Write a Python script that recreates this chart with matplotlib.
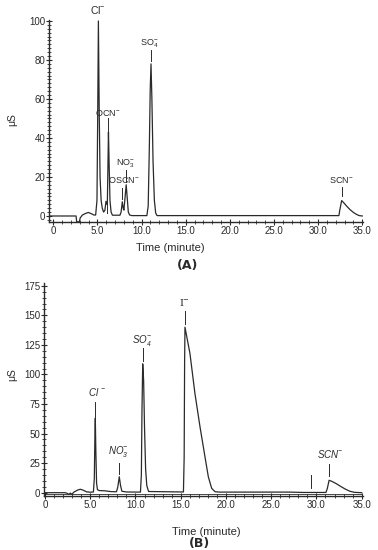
import matplotlib.pyplot as plt
from matplotlib.ticker import MultipleLocator

plt.rcParams['font.family'] = ['Liberation Sans', 'DejaVu Sans']
plt.rcParams['mathtext.default'] = 'regular'

# chromatogram (A), points: time (minute), signal (uS)
time_a = [-0.45, 2.58, 2.65, 2.95, 3.05, 3.3, 3.7, 3.97, 4.3, 4.6, 4.8, 4.95,
          5.03, 5.11, 5.2, 5.3, 5.42, 5.55, 5.7, 5.85, 5.97, 6.07, 6.13,
          6.19, 6.25, 6.32, 6.42, 6.55, 6.7, 7.55, 7.68, 7.82, 7.92, 8.0,
          8.1, 8.26, 8.38, 8.5, 8.65, 8.9, 10.6, 10.75, 10.88, 10.98, 11.07,
          11.17, 11.3, 11.45, 11.6, 11.75, 32.35, 32.45, 32.66, 32.9, 33.2,
          33.6, 34.0, 34.35, 34.65, 35.0]
sig_a = [0, 0, -3, -3, -1, 0.5, 1.4, 1.8, 1.2, 0.5, 0.5, 8,
         50, 100, 55, 20, 8, 4, 2, 3, 7.5, 6, 8,
         25, 43, 28, 8, 2, 0.4, 0.4, 2, 7.3, 4, 3,
         8, 16, 9, 2, 0.5, 0.2, 0.2, 5, 35, 65, 78,
         60, 28, 8, 1.5, 0.2, 0.2, 3, 7.9, 6.8, 5.2,
         3.3, 1.8, 0.8, 0.2, 0]

# chromatogram (B)
time_b = [-0.08, 2.2, 2.45, 2.65, 2.8, 2.95, 3.2, 3.6, 3.9, 4.2, 4.6, 5.0,
          5.35, 5.45, 5.51, 5.56, 5.62, 5.7, 5.8, 6.0, 6.6, 7.3, 7.9, 8.05,
          8.21, 8.35, 8.5, 9.0, 10.55, 10.65, 10.72, 10.8, 10.9, 11.0,
          11.12, 11.25, 11.45, 15.3, 15.38, 15.43, 15.47, 16.02, 16.57, 17.13,
          17.68, 18.05, 18.42, 18.8, 19.3, 27.0, 28.5, 31.05, 31.2, 31.4,
          31.7, 32.2, 32.7, 33.2, 33.7, 34.2, 35.0]
sig_b = [0, 0, -0.5, -1.5, -0.3, -1.4, 0.5, 2.2, 2.9, 2.2, 0.7, 0.4,
         0.6, 12, 45, 63, 35, 8, 2.5, 1.8, 1.6, 0.9, 0.8, 5,
         13.5, 6, 1.2, 0.6, 0.5, 15, 70, 109, 95, 55,
         20, 6, 1, 0.6, 30, 110, 140, 117.8, 84, 55.8,
         30.4, 13.5, 3.7, 0.8, 0.5, 0.5, 0.2, 0.2, 3.5, 10.5,
         9.6, 7.6, 5.2, 3, 1.2, 0.3, 0]

# peak labels: text, x, y, marker top, marker bottom
labels_a = ['Cl$^{-}$', 'OCN$^{-}$', 'NO$_3^{-}$', 'OSCN$^{-}$', 'SO$_4^{-}$', 'SCN$^{-}$']
lab_xa = [5.1, 6.14, 8.2, 8.0, 10.9, 32.66]
lab_ya = [105.5, 52.6, 27.0, 18.5, 88.5, 18.5]
mark_xa = [None, 6.25, 8.26, 7.82, 11.07, 32.66, 6.05]
mark_top_a = [None, 50.5, 23.5, 14.5, 85.0, 15.0, 8.2]
mark_bot_a = [None, 43.5, 17.5, 8.5, 79.5, 10.0, 1.5]

labels_b = ['Cl $^{-}$', 'NO$_3^{-}$', 'SO$_4^{-}$', 'I$^{-}$', 'SCN$^{-}$']
lab_xb = [5.7, 8.1, 10.7, 15.4, 31.5]
lab_yb = [85.0, 34.6, 129.0, 161.0, 33.0]
mark_xb = [5.56, 8.21, 10.8, 15.45, 31.4, 29.37]
mark_top_b = [77.0, 24.8, 122.8, 153.8, 24.0, 15.0]
mark_bot_b = [64.0, 15.8, 111.5, 142.5, 14.4, 3.7]

x_ticks = [0, 5, 10, 15, 20, 25, 30, 35]
x_ticklabels = ['0', '5.0', '10.0', '15.0', '20.0', '25.0', '30.0', '35.0']

ink = '#2a2a2a'
fig = plt.figure(figsize=(3.78, 5.5), dpi=100)


def style_axes(ax, yticks, yminor):
    for s in ['top', 'right']:
        ax.spines[s].set_visible(False)
    for s in ['left', 'bottom']:
        ax.spines[s].set_color(ink)
        ax.spines[s].set_linewidth(1.0)
    ax.set_xticks(x_ticks)
    ax.set_xticklabels(x_ticklabels)
    ax.set_yticks(yticks)
    ax.xaxis.set_minor_locator(MultipleLocator(1))
    ax.yaxis.set_minor_locator(MultipleLocator(yminor))
    ax.tick_params(which='major', direction='inout', length=4, width=0.8,
                   color=ink, labelsize=7, labelcolor=ink, pad=1)
    ax.tick_params(which='minor', direction='inout', length=2.5, width=0.6, color=ink)


def fig_text(x, y, s, **kw):
    fig.text(x / 378, 1 - y / 550, s, ha='center', va='center', color=ink, **kw)


# ---- (A)
ax1 = fig.add_axes([49.3 / 378, 1 - 222 / 550, 313.7 / 378, 202 / 550])
ax1.plot(time_a, sig_a, color=ink, lw=0.9)
ax1.set_xlim(-0.45, 35.08)
ax1.set_ylim(-3.08, 100.5)
style_axes(ax1, [0, 20, 40, 60, 80, 100], 2)
for i, t in enumerate(labels_a):
    ax1.text(lab_xa[i], lab_ya[i], t, ha='center', va='center', color=ink,
             fontsize=7.5 if i == 0 else 6.5, clip_on=False)
for x, y0, y1 in zip(mark_xa, mark_top_a, mark_bot_a):
    if x is not None:
        ax1.plot([x, x], [y0, y1], color=ink, lw=0.7)

# ---- (B)
ax2 = fig.add_axes([44.3 / 378, 1 - 496 / 550, 318.2 / 378, 213 / 550])
ax2.plot(time_b, sig_b, color=ink, lw=0.9)
ax2.axhline(-1.2, color=ink, lw=0.6)
ax2.set_xlim(-0.077, 35.09)
ax2.set_ylim(-2.8, 177.4)
style_axes(ax2, [0, 25, 50, 75, 100, 125, 150, 175], 5)
for i, t in enumerate(labels_b):
    ax2.text(lab_xb[i], lab_yb[i], t, ha='center', va='center', color=ink,
             fontsize=7, style='normal' if t.startswith('I') else 'italic',
             family='DejaVu Serif' if t.startswith('I') else None, clip_on=False)
for x, y0, y1 in zip(mark_xb, mark_top_b, mark_bot_b):
    ax2.plot([x, x], [y0, y1], color=ink, lw=0.7)

fig_text(12, 120, 'μS', fontsize=7.5, rotation=90)
fig_text(12, 375, 'μS', fontsize=7.5, rotation=90)
fig_text(170, 248, 'Time (minute)', fontsize=8)
fig_text(206, 532, 'Time (minute)', fontsize=8)
fig_text(188, 265, '(A)', fontsize=9, fontweight='bold', family='DejaVu Sans')
fig_text(200, 543, '(B)', fontsize=9, fontweight='bold', family='DejaVu Sans')

fig.savefig('out.png', dpi=100)
